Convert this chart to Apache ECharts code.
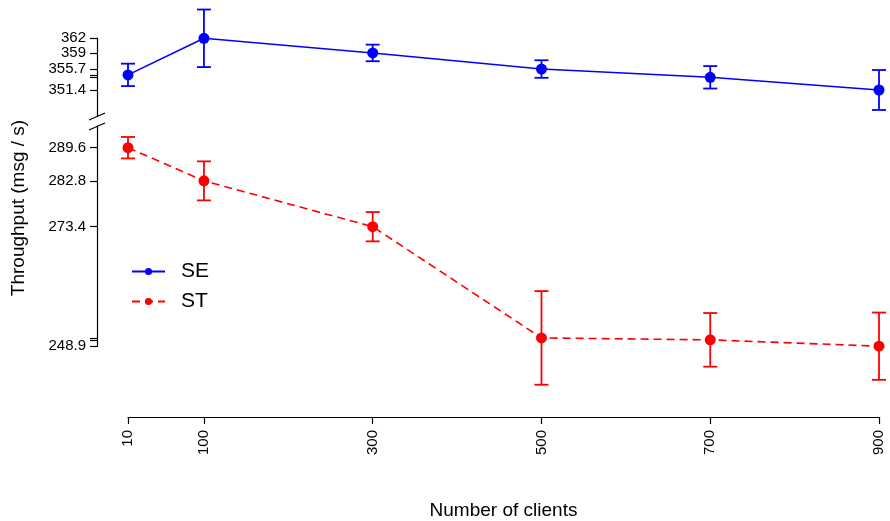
<!DOCTYPE html>
<html>
<head>
<meta charset="utf-8">
<script src="https://cdn.jsdelivr.net/npm/echarts@6/dist/echarts.min.js"></script>
<style>
html,body{margin:0;padding:0;background:#fff;}
#chart{width:890px;height:521px;}
</style>
</head>
<body>
<div id="chart"></div>
<script>
const xValues = [10, 100, 300, 500, 700, 900];
const seMean = [354.5, 362, 359, 355.7, 354.0, 351.4];
const seErr = [2.3, 5.9, 1.7, 1.8, 2.3, 4.1];
const stMean = [289.6, 282.8, 273.4, 250.6, 250.2, 248.9];
const stErr = [2.2, 4.0, 3.0, 9.6, 5.5, 6.9];
const seTickLabels = [362, 359, 355.7, 351.4];
const stTickLabels = [289.6, 282.8, 273.4, 248.9];
const xTickLabels = [10, 100, 300, 500, 700, 900];

const FONT = 'Liberation Sans, Arial, sans-serif';
const pxPerUnit = 4.877;
const seMax = 362.05, stMax = 294.05, stMin = 248.85;
const topGridTop = 38.3 - (seMax - 362) * pxPerUnit, topGridBottom = 116;
const botGridTop = 126;
const seMin = seMax - (topGridBottom - topGridTop) / pxPerUnit;
const botHeight = (stMax - stMin) * pxPerUnit;
const axisX = 97, gridLeft = 128, gridRight = 11;
const xAxisY = 417;

const chart = echarts.init(document.getElementById('chart'), null, {renderer: 'canvas'});

function pts(xs, ys) { return xs.map((x, i) => [x, ys[i]]); }
function errData(xs, m, e) { return xs.map((x, i) => [x, m[i] - e[i], m[i] + e[i]]); }

function errRender(color) {
  return function (params, api) {
    const x = api.value(0);
    const lo = api.coord([x, api.value(1)]);
    const hi = api.coord([x, api.value(2)]);
    const cap = 7;
    const st = {stroke: color, lineWidth: 1.8};
    return {
      type: 'group',
      children: [
        {type: 'line', shape: {x1: lo[0], y1: lo[1], x2: hi[0], y2: hi[1]}, style: st},
        {type: 'line', shape: {x1: lo[0] - cap, y1: lo[1], x2: lo[0] + cap, y2: lo[1]}, style: st},
        {type: 'line', shape: {x1: hi[0] - cap, y1: hi[1], x2: hi[0] + cap, y2: hi[1]}, style: st}
      ]
    };
  };
}

const yAxisCommon = {
  type: 'value',
  position: 'left',
  offset: gridLeft - axisX,
  splitLine: {show: false},
  axisLine: {show: true, lineStyle: {color: '#000', width: 1.2}},
  axisTick: {show: true, length: 7, lineStyle: {color: '#000', width: 1.2}},
  axisLabel: {color: '#000', fontSize: 15, fontFamily: FONT, margin: 11,
              hideOverlap: false, formatter: v => String(v)}
};

const option = {
  animation: false,
  backgroundColor: '#fff',
  grid: [
    {left: gridLeft, right: gridRight, top: topGridTop, height: topGridBottom - topGridTop},
    {left: gridLeft, right: gridRight, top: botGridTop, height: botHeight}
  ],
  xAxis: [
    {gridIndex: 0, type: 'value', min: 10, max: 900, show: false},
    {
      gridIndex: 1, type: 'value', min: 10, max: 900,
      offset: xAxisY - (botGridTop + botHeight),
      splitLine: {show: false},
      axisLine: {show: true, lineStyle: {color: '#000', width: 1.2}},
      axisTick: {show: true, length: 7, customValues: xTickLabels, lineStyle: {color: '#000', width: 1.2}},
      axisLabel: {customValues: xTickLabels, rotate: 90, margin: 13, color: '#000', fontSize: 15, fontFamily: FONT, hideOverlap: false},
      name: 'Number of clients', nameLocation: 'middle', nameGap: 84,
      nameTextStyle: {color: '#000', fontSize: 19, fontFamily: FONT}
    }
  ],
  yAxis: [
    Object.assign({}, yAxisCommon, {
      gridIndex: 0, min: seMin, max: seMax,
      axisTick: Object.assign({}, yAxisCommon.axisTick, {customValues: seMean}),
      axisLabel: Object.assign({}, yAxisCommon.axisLabel, {customValues: seTickLabels.slice(1), showMinLabel: true, showMaxLabel: true})
    }),
    Object.assign({}, yAxisCommon, {
      gridIndex: 1, min: stMin, max: stMax,
      axisTick: Object.assign({}, yAxisCommon.axisTick, {customValues: stMean}),
      axisLabel: Object.assign({}, yAxisCommon.axisLabel, {customValues: stTickLabels})
    }),
    Object.assign({}, yAxisCommon, {
      gridIndex: 0, min: seMin, max: seMax,
      axisLine: {show: false},
      axisTick: {show: false},
      axisLabel: Object.assign({}, yAxisCommon.axisLabel, {customValues: seTickLabels.slice(0, 1), showMaxLabel: true})
    })
  ],
  legend: {
    left: 131, top: 261, orient: 'vertical', padding: 0,
    itemWidth: 33, itemHeight: 9, itemGap: 9,
    textStyle: {fontSize: 21, fontFamily: FONT, color: '#000', padding: [0, 0, 0, 11]},
    data: ['SE', 'ST']
  },
  graphic: [
    {type: 'line', shape: {x1: 89, y1: 120, x2: 105, y2: 113}, style: {stroke: '#000', lineWidth: 1.2}},
    {type: 'line', shape: {x1: 89, y1: 130, x2: 105, y2: 123}, style: {stroke: '#000', lineWidth: 1.2}},
    {type: 'text', x: 19, y: 208, rotation: Math.PI / 2,
     style: {text: 'Throughput (msg / s)', fontSize: 19, fontFamily: FONT, fill: '#000', textAlign: 'center', textVerticalAlign: 'middle'}}
  ],
  series: [
    {
      name: 'SE', type: 'line', xAxisIndex: 0, yAxisIndex: 0,
      data: pts(xValues, seMean), symbol: 'circle', symbolSize: 11,
      itemStyle: {color: '#0000ff'}, lineStyle: {color: '#0000ff', width: 1.6}, z: 3, clip: false
    },
    {
      name: 'SE-err', type: 'custom', xAxisIndex: 0, yAxisIndex: 0,
      data: errData(xValues, seMean, seErr), renderItem: errRender('#0000ff'),
      encode: {x: 0, y: [1, 2]}, clip: false, z: 2
    },
    {
      name: 'ST', type: 'line', xAxisIndex: 1, yAxisIndex: 1,
      data: pts(xValues, stMean), symbol: 'circle', symbolSize: 11,
      itemStyle: {color: '#ff0000'}, lineStyle: {color: '#ff0000', width: 1.6, type: [8, 5]}, z: 3, clip: false
    },
    {
      name: 'ST-err', type: 'custom', xAxisIndex: 1, yAxisIndex: 1,
      data: errData(xValues, stMean, stErr), renderItem: errRender('#ff0000'),
      encode: {x: 0, y: [1, 2]}, clip: false, z: 2
    }
  ]
};
chart.setOption(option);
</script>
</body>
</html>
